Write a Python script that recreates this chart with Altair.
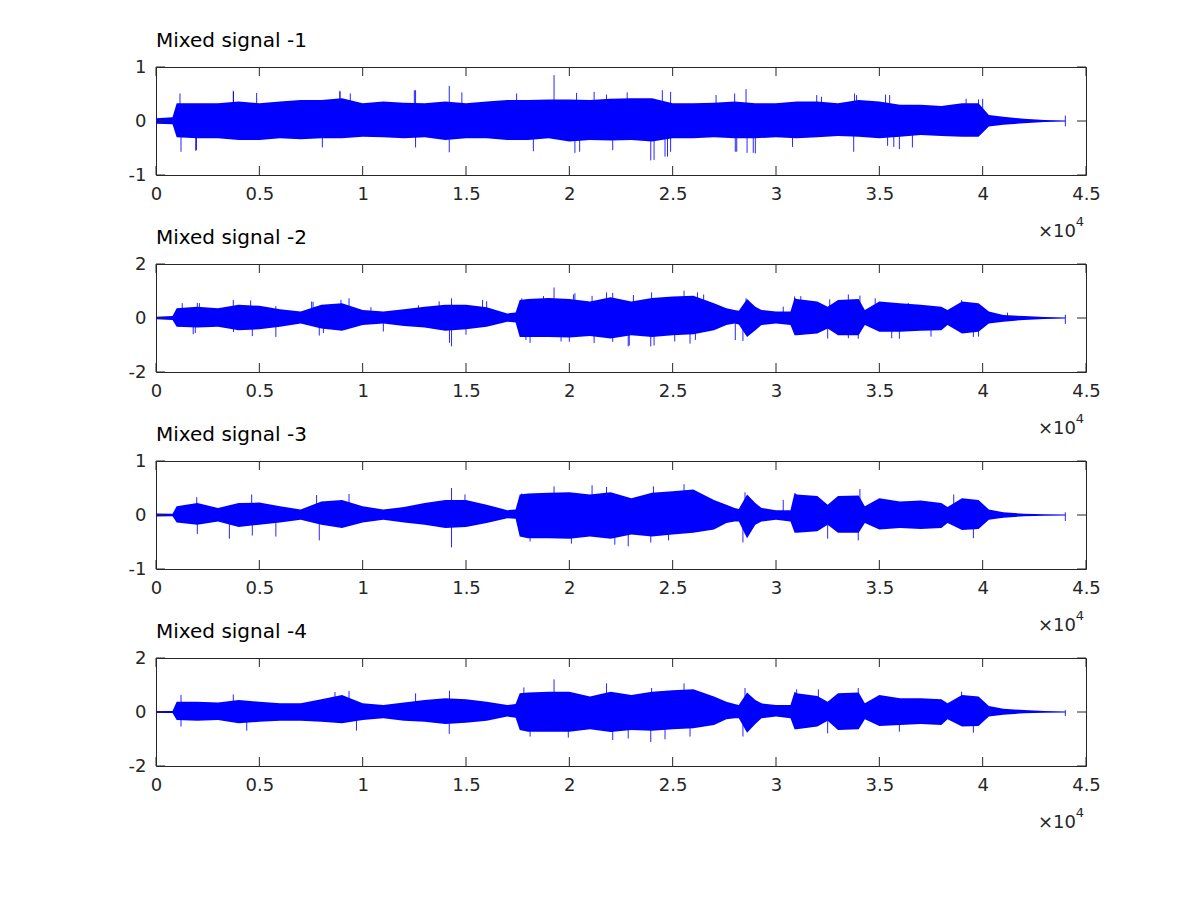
import altair as alt
import pandas as pd

BLUE = "#0000ff"
AX = "#262626"
FONT = "DejaVu Sans"
W, H = 930, 108

X_TICKS = [0, 5000, 10000, 15000, 20000, 25000, 30000, 35000, 40000, 45000]

# ---- sample positions (in thousands of samples) ----
grid_p1 = [0, 0.8, 1, 2, 3, 4, 5, 6, 7, 8, 9,
           10, 11, 12, 13, 14, 15, 16, 17, 18, 19,
           20, 21, 22, 23, 24, 25, 26, 27, 28, 29,
           30, 31, 32, 33, 34, 35, 36, 37, 38, 39,
           39.8, 40.3, 41, 42, 43, 44]

grid_p234 = [0, 0.8, 1, 2, 3, 4, 5, 6, 7, 8, 9,
             10, 11, 12, 13, 14, 15, 16, 17, 17.4, 17.6,
             18, 19, 20, 21, 22, 23, 24, 25, 26, 27,
             27.6, 28, 28.2, 28.6, 29, 29.3, 30, 30.7, 30.9, 31,
             32, 32.5, 33, 34, 34.3, 35, 36, 37, 38, 38.3,
             39, 39.8, 40.3, 41, 42, 43, 44]

# ---- envelope of the dense waveform (upper / lower) ----
p1_upper = [0.05, 0.07, 0.33, 0.33, 0.33, 0.36, 0.33, 0.36, 0.39, 0.39, 0.42,
            0.33, 0.36, 0.34, 0.33, 0.36, 0.33, 0.36, 0.39, 0.39, 0.40,
            0.40, 0.39, 0.41, 0.42, 0.42, 0.33, 0.33, 0.34, 0.36, 0.33,
            0.33, 0.36, 0.36, 0.33, 0.39, 0.36, 0.30, 0.30, 0.28, 0.33,
            0.33, 0.11, 0.08, 0.04, 0.02, 0.01]
p1_lower = [-0.05, -0.06, -0.30, -0.32, -0.32, -0.35, -0.35, -0.32, -0.34, -0.32, -0.32,
            -0.29, -0.30, -0.32, -0.30, -0.35, -0.32, -0.32, -0.35, -0.35, -0.32,
            -0.38, -0.35, -0.36, -0.35, -0.38, -0.32, -0.32, -0.30, -0.32, -0.32,
            -0.30, -0.32, -0.30, -0.28, -0.29, -0.32, -0.29, -0.26, -0.28, -0.29,
            -0.29, -0.10, -0.07, -0.04, -0.02, -0.01]

p2_upper = [0.05, 0.07, 0.36, 0.42, 0.36, 0.49, 0.45, 0.32, 0.24, 0.49, 0.55,
            0.30, 0.24, 0.32, 0.42, 0.49, 0.49, 0.40, 0.17, 0.20, 0.67,
            0.70, 0.74, 0.70, 0.61, 0.77, 0.61, 0.74, 0.80, 0.82, 0.55,
            0.36, 0.30, 0.27, 0.70, 0.42, 0.30, 0.24, 0.24, 0.74, 0.70,
            0.61, 0.42, 0.67, 0.70, 0.30, 0.61, 0.55, 0.49, 0.42, 0.30,
            0.61, 0.55, 0.24, 0.11, 0.07, 0.04, 0.02]
p2_lower = [-0.05, -0.07, -0.32, -0.35, -0.32, -0.45, -0.42, -0.32, -0.20, -0.39, -0.47,
            -0.26, -0.20, -0.30, -0.35, -0.47, -0.42, -0.32, -0.14, -0.17, -0.70,
            -0.70, -0.70, -0.72, -0.67, -0.76, -0.64, -0.70, -0.64, -0.60, -0.45,
            -0.26, -0.20, -0.24, -0.70, -0.45, -0.26, -0.20, -0.26, -0.64, -0.64,
            -0.57, -0.39, -0.64, -0.64, -0.26, -0.51, -0.51, -0.47, -0.45, -0.26,
            -0.57, -0.51, -0.20, -0.14, -0.07, -0.04, -0.02]

p3_upper = [0.03, 0.025, 0.16, 0.22, 0.13, 0.22, 0.23, 0.16, 0.10, 0.25, 0.28,
            0.16, 0.10, 0.15, 0.22, 0.28, 0.28, 0.19, 0.09, 0.10, 0.38,
            0.40, 0.41, 0.42, 0.38, 0.42, 0.31, 0.41, 0.44, 0.47, 0.28,
            0.19, 0.13, 0.11, 0.38, 0.22, 0.13, 0.09, 0.09, 0.41, 0.38,
            0.35, 0.19, 0.35, 0.36, 0.16, 0.31, 0.25, 0.27, 0.22, 0.15,
            0.31, 0.28, 0.10, 0.05, 0.025, 0.015, 0.01]
p3_lower = [-0.03, -0.025, -0.14, -0.18, -0.12, -0.22, -0.18, -0.14, -0.09, -0.18, -0.24,
            -0.14, -0.09, -0.14, -0.18, -0.24, -0.22, -0.15, -0.06, -0.07, -0.40,
            -0.43, -0.43, -0.44, -0.40, -0.44, -0.36, -0.40, -0.36, -0.33, -0.27,
            -0.15, -0.12, -0.12, -0.43, -0.18, -0.12, -0.09, -0.12, -0.33, -0.33,
            -0.30, -0.18, -0.33, -0.33, -0.15, -0.27, -0.24, -0.26, -0.24, -0.15,
            -0.28, -0.26, -0.09, -0.05, -0.025, -0.015, -0.01]

p4_upper = [0.04, 0.04, 0.38, 0.38, 0.35, 0.44, 0.38, 0.32, 0.32, 0.47, 0.63,
            0.32, 0.26, 0.35, 0.44, 0.51, 0.47, 0.38, 0.26, 0.30, 0.69,
            0.72, 0.75, 0.75, 0.57, 0.75, 0.63, 0.75, 0.81, 0.84, 0.57,
            0.38, 0.30, 0.26, 0.72, 0.44, 0.32, 0.26, 0.26, 0.75, 0.69,
            0.59, 0.38, 0.69, 0.72, 0.32, 0.63, 0.51, 0.51, 0.47, 0.32,
            0.63, 0.57, 0.22, 0.12, 0.07, 0.04, 0.02]
p4_lower = [-0.04, -0.04, -0.30, -0.32, -0.30, -0.42, -0.36, -0.32, -0.32, -0.36, -0.42,
            -0.30, -0.23, -0.32, -0.36, -0.44, -0.40, -0.32, -0.17, -0.21, -0.67,
            -0.73, -0.73, -0.73, -0.64, -0.74, -0.67, -0.69, -0.64, -0.60, -0.48,
            -0.27, -0.23, -0.23, -0.77, -0.44, -0.23, -0.17, -0.23, -0.64, -0.64,
            -0.54, -0.32, -0.67, -0.64, -0.27, -0.52, -0.48, -0.44, -0.48, -0.27,
            -0.54, -0.52, -0.17, -0.10, -0.05, -0.03, -0.02]

# ---- isolated peaks (position in thousands, value) ----
p1_spike_k = [1.16, 3.74, 4.87, 8.9, 9.4, 12.56, 14.19, 14.8, 17.45, 19.26, 20.35, 21.8,
              22.8, 24.9, 28.0, 28.55, 31.97, 33.8, 35.3, 39.8,
              1.21, 1.92, 8.05, 12.56, 14.19, 18.26, 20.27, 22.1, 23.94, 24.63, 24.9,
              28.03, 28.6, 28.9, 30.8, 33.76, 35.4, 35.97, 44.0, 44.0,
              3.75, 8.9, 12.5, 21.2, 24.5, 27.1, 32.2, 33.9, 35.5, 39.2, 40.0,
              1.96, 20.5, 24.1, 24.75, 28.1, 29.0, 35.7, 36.6]
p1_spike_v = [0.51, 0.56, 0.52, 0.54, 0.51, 0.57, 0.65, 0.53, 0.51, 0.85, 0.52, 0.49,
              0.53, 0.54, 0.51, 0.59, 0.48, 0.51, 0.49, 0.40,
              -0.57, -0.55, -0.49, -0.49, -0.58, -0.56, -0.59, -0.54, -0.73, -0.66, -0.57,
              -0.57, -0.59, -0.59, -0.48, -0.57, -0.46, -0.52, 0.10, -0.10,
              0.54, 0.56, 0.57, 0.54, 0.57, 0.48, 0.45, 0.48, 0.48, 0.41, 0.41,
              -0.54, -0.57, -0.72, -0.66, -0.57, -0.60, -0.48, -0.49]

p2_spike_k = [1.27, 2.1, 3.74, 4.58, 7.53, 8.95, 9.34, 14.3, 15.8, 17.7, 19.26, 20.27,
              21.1, 21.8, 23.98, 25.55, 26.2, 28.55, 30.35, 30.9, 34.06, 34.8, 38.98, 41.2,
              1.8, 4.66, 5.8, 7.9, 14.3, 14.2, 18.1, 20.0, 22.1, 22.85, 23.94, 25.84,
              28.03, 28.4, 32.5, 33.98, 35.97, 39.55, 44.0, 44.0,
              2.0, 5.8, 7.6, 10.4, 12.7, 13.7, 16.0, 18.75, 20.2, 22.1, 23.1, 26.5,
              31.2, 32.6, 33.5, 36.4,
              1.9, 3.75, 8.1, 11.0, 15.0, 17.9, 19.6, 21.2, 22.9, 24.1, 25.1, 26.1,
              31.2, 33.5, 35.6, 37.5, 39.8]
p2_spike_v = [0.55, 0.55, 0.67, 0.65, 0.61, 0.67, 0.73, 0.73, 0.67, 0.73, 1.13, 0.92,
              0.82, 0.95, 0.95, 1.01, 0.95, 0.73, 0.42, 0.80, 0.83, 0.73, 0.67, 0.20,
              -0.60, -0.67, -0.70, -0.65, -1.05, -0.92, -0.92, -0.88, -0.88, -1.05, -1.05, -0.95,
              -0.82, -0.85, -0.76, -0.77, -0.77, -0.70, 0.12, -0.22,
              0.56, 0.44, 0.60, 0.40, 0.47, 0.62, 0.62, 0.81, 0.87, 0.93, 0.85, 0.87,
              0.81, 0.69, 0.87, 0.56,
              -0.56, -0.52, -0.56, -0.50, -0.62, -0.81, -0.87, -0.93, -1.02, -1.02, -0.87, -0.81,
              -0.62, -0.75, -0.75, -0.69, -0.69]

p3_spike_k = [1.97, 4.63, 7.77, 9.34, 14.3, 14.95, 17.7, 19.26, 21.1, 21.8, 24.07, 25.55,
              28.5, 30.35, 34.06, 38.6,
              2.0, 3.55, 4.66, 5.8, 7.9, 14.3, 18.1, 20.1, 22.2, 22.85, 23.94, 24.8,
              28.4, 32.5, 33.98, 39.55, 44.0, 44.0]
p3_spike_v = [0.33, 0.38, 0.37, 0.39, 0.50, 0.38, 0.40, 0.53, 0.55, 0.52, 0.53, 0.57,
              0.42, 0.28, 0.48, 0.38,
              -0.35, -0.44, -0.38, -0.40, -0.47, -0.60, -0.49, -0.53, -0.55, -0.58, -0.51, -0.47,
              -0.51, -0.44, -0.47, -0.43, 0.05, -0.11]

p4_spike_k = [1.21, 3.74, 8.66, 9.34, 12.56, 14.2, 17.8, 19.26, 21.8, 23.98, 25.55, 28.5,
              31.0, 32.05, 33.98, 38.98,
              1.21, 4.39, 9.7, 14.19, 18.1, 19.95, 22.1, 22.85, 23.94, 24.63, 25.84, 28.4,
              32.5, 35.97, 39.55, 44.0, 44.0]
p4_spike_v = [0.63, 0.65, 0.74, 0.78, 0.69, 0.79, 0.91, 1.21, 1.06, 0.89, 1.06, 0.89,
              0.84, 0.84, 0.89, 0.75,
              -0.54, -0.69, -0.69, -0.81, -0.91, -0.95, -1.04, -0.98, -1.11, -1.01, -0.91, -0.91,
              -0.79, -0.73, -0.77, 0.07, -0.15]

titles = ["Mixed signal -1", "Mixed signal -2", "Mixed signal -3", "Mixed signal -4"]
ylims = [1, 2, 1, 2]


def panel(title, grid, up, lo, sk, sv, ymax):
    env = pd.DataFrame({"x": [k * 1000 for k in grid], "up": up, "lo": lo})
    spk = pd.DataFrame({"x": [k * 1000 for k in sk], "v": sv, "z": [0.0] * len(sv)})
    xt = pd.DataFrame({"x": X_TICKS})
    yt = pd.DataFrame({"y": [-ymax, 0, ymax]})

    xs = alt.Scale(domain=[0, 45000], nice=False, zero=False)
    ys = alt.Scale(domain=[-ymax, ymax], nice=False, zero=False)
    xaxis = alt.Axis(values=X_TICKS, labelExpr="'' + (datum.value / 10000)",
                     labelFlush=False, labelPadding=10, title=None)
    yaxis = alt.Axis(values=[-ymax, 0, ymax], labelExpr="'' + datum.value",
                     labelFlush=False, labelPadding=10, title=None)

    area = alt.Chart(env).mark_area(color=BLUE, opacity=1).encode(
        x=alt.X("x:Q", scale=xs, axis=xaxis, title=None),
        y=alt.Y("up:Q", scale=ys, axis=yaxis, title=None),
        y2="lo:Q",
    )
    spikes = alt.Chart(spk).mark_rule(color=BLUE, strokeWidth=1, opacity=0.85).encode(
        x=alt.X("x:Q", title=None), y=alt.Y("v:Q", title=None), y2="z:Q"
    )
    tb = alt.Chart(xt).mark_rule(color=AX, strokeWidth=1).encode(
        x=alt.X("x:Q", title=None), y=alt.value(H), y2=alt.value(H - 9))
    tt = alt.Chart(xt).mark_rule(color=AX, strokeWidth=1).encode(
        x=alt.X("x:Q", title=None), y=alt.value(0), y2=alt.value(9))
    tl = alt.Chart(yt).mark_rule(color=AX, strokeWidth=1).encode(
        y=alt.Y("y:Q", title=None), x=alt.value(0), x2=alt.value(9))
    tr = alt.Chart(yt).mark_rule(color=AX, strokeWidth=1).encode(
        y=alt.Y("y:Q", title=None), x=alt.value(W), x2=alt.value(W - 9))
    m1 = alt.Chart(pd.DataFrame({"t": ["\u00d710"]})).mark_text(
        align="right", baseline="alphabetic", font=FONT, fontSize=18, color=AX, dx=-10
    ).encode(x=alt.value(W), y=alt.value(H + 62), text="t:N")
    m2 = alt.Chart(pd.DataFrame({"t": ["4"]})).mark_text(
        align="right", baseline="alphabetic", font=FONT, fontSize=13, color=AX, dx=-2
    ).encode(x=alt.value(W), y=alt.value(H + 51), text="t:N")

    return alt.layer(area, spikes, tb, tt, tl, tr, m1, m2).properties(
        width=W, height=H,
        title=alt.TitleParams(title, anchor="start", frame="group", font=FONT, fontSize=20,
                              fontWeight="normal", color="black", offset=7),
    )


data = [
    (grid_p1, p1_upper, p1_lower, p1_spike_k, p1_spike_v),
    (grid_p234, p2_upper, p2_lower, p2_spike_k, p2_spike_v),
    (grid_p234, p3_upper, p3_lower, p3_spike_k, p3_spike_v),
    (grid_p234, p4_upper, p4_lower, p4_spike_k, p4_spike_v),
]

panels = [panel(t, g, u, l, sk, sv, ym)
          for t, (g, u, l, sk, sv), ym in zip(titles, data, ylims)]

chart = alt.vconcat(*panels, spacing=89, bounds="flush").properties(
    padding={"left": 127, "top": 30, "right": 30, "bottom": 20},
    background="white",
).configure_axis(
    grid=False, domain=False, ticks=False,
    labelFont=FONT, labelFontSize=18, labelColor=AX,
).configure_view(stroke=AX, strokeWidth=1)

chart.save("out.html", embed_options={"renderer": "svg", "actions": False})
